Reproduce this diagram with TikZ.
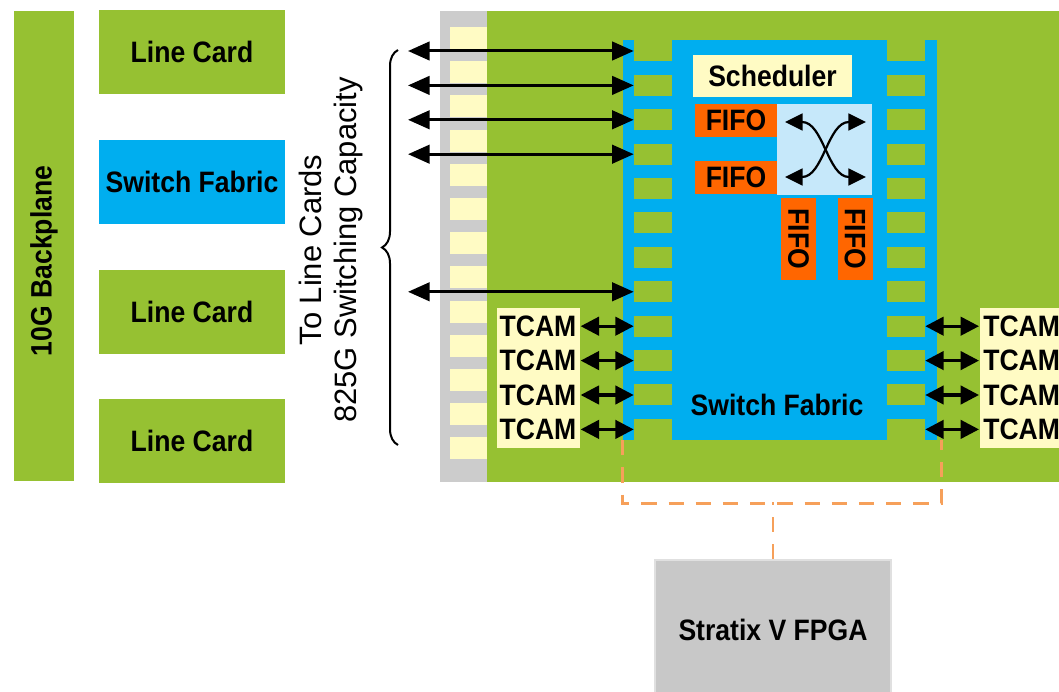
\documentclass[tikz,border=0pt]{standalone}
\usepackage{fontspec}
\setmainfont{Liberation Sans}[FakeStretch=0.9]
\newfontfamily\capfont{Liberation Sans}
\usepackage{tikz}
\usetikzlibrary{positioning, arrows.meta, decorations.pathreplacing}

\definecolor{boardgreen}{RGB}{150,193,50}
\definecolor{fabblue}{RGB}{0,174,239}
\definecolor{slotyellow}{RGB}{255,251,196}
\definecolor{fifoorange}{RGB}{255,102,0}
\definecolor{xbarblue}{RGB}{198,232,250}
\definecolor{stripgray}{RGB}{204,204,204}
\definecolor{fpgagray}{RGB}{200,200,200}
\definecolor{ctlorange}{RGB}{246,160,90}

\newcommand\pxu{0.25mm}

\tikzset{
  blk/.style={inner sep=0pt, font=\fontsize{21}{24}\selectfont\bfseries},
  card/.style={blk, fill=boardgreen, minimum width=186*\pxu, minimum height=84*\pxu},
  pad/.style={fill=boardgreen, inner sep=0pt, minimum width=38*\pxu, minimum height=21*\pxu},
  fifo/.style={blk, fill=fifoorange, minimum width=82*\pxu, minimum height=33*\pxu},
  tcam/.style={blk, inner xsep=1mm},
  link/.style={line width=0.75mm, {Triangle[length=5.4mm,width=4.6mm]}-{Triangle[length=5.4mm,width=4.6mm]}},
  tarr/.style={line width=0.8mm, {Triangle[length=4.6mm,width=4.6mm]}-{Triangle[length=4.6mm,width=4.6mm]}},
  xarr/.style={line width=0.55mm, {Triangle[length=4.4mm,width=4.2mm]}-{Triangle[length=4.4mm,width=4.2mm]}},
  ctl/.style={draw=ctlorange, line width=0.7mm, dash pattern=on 3.8mm off 3mm}
}

\begin{document}
\begin{tikzpicture}[x=\pxu, y=-\pxu]
    \useasboundingbox (0,0) rectangle (1059,692);
    \clip (0,0) rectangle (1059,692);

    % Backplane and cards on it
    \node[fill=boardgreen, inner sep=0pt, minimum width=60*\pxu, minimum height=470*\pxu] (bp) at (44,246) {};
    \node[blk, rotate=90] (bptxt) at (44,261) {10G Backplane};
    \node[card] (lc1) at (192,52) {Line Card};
    \node[card, fill=fabblue, below=11.3mm of lc1] (sf) {Switch Fabric};
    \node[card, below=11.3mm of sf] (lc2) {Line Card};
    \node[card, below=11.3mm of lc2] (lc3) {Line Card};

    % Capacity label with brace
    \node[font=\capfont\fontsize{22}{25}\selectfont, align=center, rotate=90] (cap) at (331,250) {To Line Cards\\825G Switching Capacity};
    \coordinate (brb) at (398,445);
    \coordinate (brt) at (398,50);
    \draw[line width=0.5mm, decorate, decoration={brace, amplitude=4mm}] (brb) -- (brt);

    % Board with connector strip
    \fill[stripgray] (440,11) rectangle (487,482);
    \fill[boardgreen] (487,11) rectangle (1070,482);
    \foreach \k in {0,...,12}
        \fill[slotyellow] (450,{27+34.2*\k}) rectangle ++(37,22);

    % Switch fabric chip
    \node[fill=fabblue, inner sep=0pt, minimum width=314*\pxu, minimum height=400*\pxu] (fab) at (780,240) {};
    \foreach \k in {0,...,11} {
        \node[pad] (pl\k) at (653,{51+34.4*\k}) {};
        \node[pad] (pr\k) at (906,{51+34.4*\k}) {};
    }
    \node[blk] (fabtxt) at (777,405) {Switch Fabric};

    % Scheduler, FIFOs and crossbar
    \node[blk, fill=slotyellow, minimum width=159*\pxu, minimum height=42*\pxu] (sched) at (772.5,76) {Scheduler};
    \node[fill=xbarblue, inner sep=0pt, minimum width=95*\pxu, minimum height=91*\pxu] (xbar) at (824.5,149.5) {};
    \node[fifo] (f1) at (736,120.5) {FIFO};
    \node[fifo] (f2) at (736,177.5) {FIFO};
    \node[fifo, rotate=-90, minimum height=35*\pxu] (f3) at (798.5,239) {FIFO};
    \node[fifo, rotate=-90, minimum height=35*\pxu] (f4) at (855,239) {FIFO};
    \coordinate (xa) at (785,122);
    \coordinate (xb) at (866,177);
    \coordinate (xc) at (785,177);
    \coordinate (xd) at (866,122);
    \draw[xarr] (xa) to[out=0, in=180] (xb);
    \draw[xarr] (xc) to[out=0, in=180] (xd);

    % Links to line cards
    \foreach \k in {0,1,2,3,7} {
        \coordinate (lk\k) at (408,{51+34.4*\k});
        \draw[link] (lk\k) -- (pl\k.west);
    }

    % TCAMs on both sides
    \node[fill=slotyellow, inner sep=0pt, minimum width=83*\pxu, minimum height=140*\pxu] (tcl) at (538.5,378) {};
    \node[fill=slotyellow, inner sep=0pt, minimum width=90*\pxu, minimum height=140*\pxu] (tcr) at (1025,378) {};
    \foreach \k in {8,...,11} {
        \node[tcam] (tl\k) at (538,{51+34.4*\k}) {TCAM};
        \node[tcam, anchor=west] (tr\k) at (979,{51+34.4*\k}) {TCAM};
        \draw[tarr] (tl\k) -- (pl\k.west);
        \draw[tarr] (pr\k.east) -- (tr\k);
    }

    % Control path to the FPGA
    \node[blk, fill=fpgagray, draw=black!12, line width=0.5mm, minimum width=236*\pxu, minimum height=140*\pxu] (fpga) at (773,630) {Stratix V FPGA};
    \draw[ctl] (fab.south west) -- ++(0,63) -| ([xshift=1mm]fab.south east);
    \draw[ctl] (fpga.north) -- ++(0,-57);

\end{tikzpicture}
\end{document}
